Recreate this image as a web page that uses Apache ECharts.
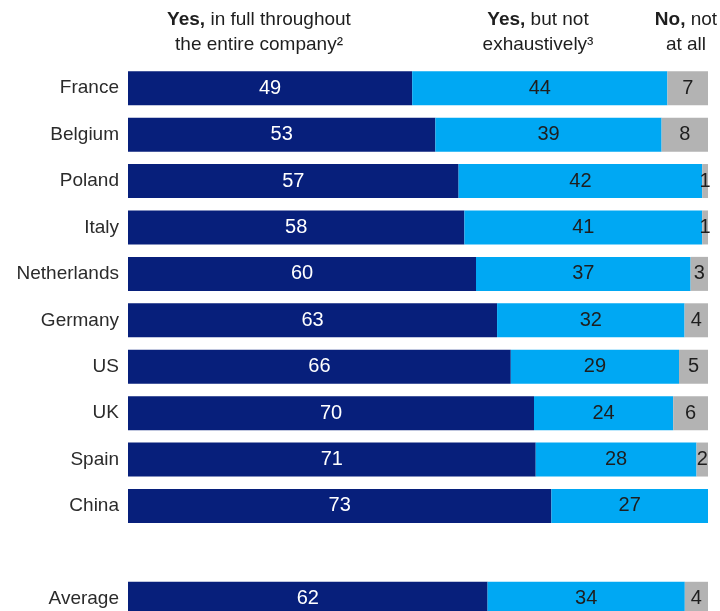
<!DOCTYPE html>
<html>
<head>
<meta charset="utf-8">
<script src="https://cdn.jsdelivr.net/npm/echarts@6/dist/echarts.min.js"></script>
<style>
  html, body { margin: 0; padding: 0; background: #ffffff; }
  #chart { width: 720px; height: 611px; }
</style>
</head>
<body>
<div id="chart"></div>
<script>
// Rows from top to bottom; the empty entry leaves a gap before the average row
const countries = ['France', 'Belgium', 'Poland', 'Italy', 'Netherlands', 'Germany', 'US', 'UK', 'Spain', 'China', '', 'Average'];
// Share of respondents, %
const yesInFull  = [49, 53, 57, 58, 60, 63, 66, 70, 71, 73, null, 62];
const yesPartial = [44, 39, 42, 41, 37, 32, 29, 24, 28, 27, null, 34];
const noNotAtAll = [7, 8, 1, 1, 3, 4, 5, 6, 2, 0, null, 4];

const FONT = '"Liberation Sans", Arial, Helvetica, sans-serif';
const navy = '#071f7b';
const sky = '#00a8f3';
const grey = '#b3b3b3';
const ink = '#1e1e1e';

// Each bar is shown as a share of its row total, labelled with the reported value
const rowTotal = countries.map((_, i) =>
  (yesInFull[i] || 0) + (yesPartial[i] || 0) + (noNotAtAll[i] || 0));
function shares(arr) {
  return arr.map((v, i) => (v == null ? null : { value: v / rowTotal[i] * 100, raw: v }));
}

function makeSeries(name, arr, color, labelColor) {
  return {
    name: name,
    type: 'bar',
    stack: 'total',
    barWidth: 34,
    data: shares(arr),
    itemStyle: { color: color },
    silent: true,
    label: {
      show: true,
      position: 'inside',
      color: labelColor,
      fontFamily: FONT,
      fontSize: 20,
      formatter: p => (p.data && p.data.raw ? String(p.data.raw) : '')
    }
  };
}

function header(x, text) {
  return {
    type: 'text', x: x, y: 7,
    style: {
      text: text,
      align: 'center', fill: ink, font: '19px ' + FONT, lineHeight: 25,
      rich: { b: { fontWeight: 'bold', fontSize: 19, fontFamily: FONT, fill: ink } }
    }
  };
}

const chart = echarts.init(document.getElementById('chart'), null, { renderer: 'canvas' });
chart.setOption({
  animation: false,
  backgroundColor: '#ffffff',
  // the last row runs past the bottom edge of the canvas
  grid: { left: 128, right: 12, top: 65, bottom: -11, outerBoundsMode: 'none', containLabel: false },
  xAxis: {
    type: 'value', min: 0, max: 100, show: false
  },
  yAxis: {
    type: 'category',
    data: countries,
    inverse: true,
    axisLine: { show: false },
    axisTick: { show: false },
    axisLabel: { color: '#2b2b2b', fontFamily: FONT, fontSize: 19, margin: 9 }
  },
  series: [
    makeSeries('Yes, in full throughout the entire company', yesInFull, navy, '#ffffff'),
    makeSeries('Yes, but not exhaustively', yesPartial, sky, ink),
    makeSeries('No, not at all', noNotAtAll, grey, ink)
  ],
  graphic: [
    header(259, '{b|Yes,} in full throughout\nthe entire company²'),
    header(538, '{b|Yes,} but not\nexhaustively³'),
    header(686, '{b|No,} not\nat all')
  ]
});
</script>
</body>
</html>
